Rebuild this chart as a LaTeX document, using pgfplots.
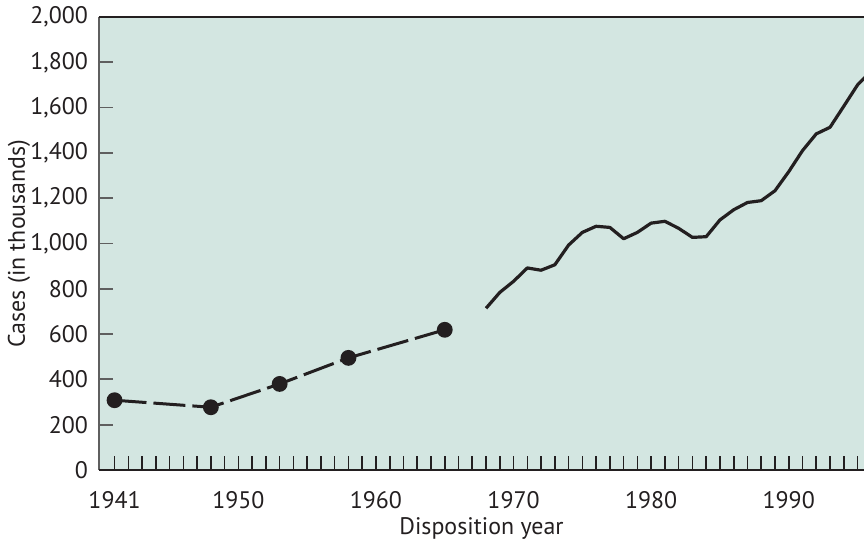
\documentclass[border=0pt]{standalone}
\usepackage{fontspec}
\setmainfont{PT Sans}
\usepackage{pgfplots}
\pgfplotsset{compat=1.18}
\definecolor{bg}{RGB}{211,230,225}
\definecolor{ink}{RGB}{35,31,32}
\definecolor{axgray}{RGB}{95,95,95}
\begin{document}
\begin{tikzpicture}
\begin{axis}[
  name=ax,
  scale only axis, width=382.5bp, height=226.5bp,
  xmin=1939.87, xmax=1995.47, ymin=0, ymax=2000,
  axis background/.style={fill=bg},
  axis line style={draw=none},
  clip mode=individual,
  tick align=inside,
  xtick pos=bottom, ytick pos=left,
  xtick={1941,1950,1960,1970,1980,1990},
  minor xtick={1942,1943,...,1995},
  ytick={0,200,...,2000},
  major tick length=6.8bp, minor tick length=6.8bp,
  x tick style={ink, line width=0.8bp},
  y tick style={axgray, line width=0.9bp},
  xticklabel={\pgfmathprintnumber[1000 sep={}]{\tick}},
  /pgf/number format/.cd, 1000 sep={,}, assume math mode=true, /pgfplots/.cd,
  tick label style={font=\fontsize{12}{14}\selectfont, text=ink},
  yticklabel style={xshift=-2bp},
  xticklabel style={yshift=-7bp},
  label style={font=\fontsize{12}{14}\selectfont, text=ink},
  xlabel={Disposition year},
  ylabel={Cases (in thousands)},
  xlabel style={at={(axis description cs:0.5,0)}, anchor=center, yshift=-29bp},
  ylabel style={at={(axis description cs:0,0.5)}, anchor=center, yshift=40bp},
]
\addplot[ink, line width=1.5bp, dash pattern=on 16bp off 3.5bp, mark=*, mark size=3.2bp, mark options={solid, fill=ink}]
  coordinates {(1941,308)(1948,277)(1953,380)(1958,495)(1965,619)};
\addplot[ink, line width=1.6bp, line join=round] coordinates {
(1968,714)(1969,784)(1970,833)(1971,892)(1972,882)(1973,906)(1974,993)
(1975,1049)(1976,1076)(1977,1071)(1978,1021)(1979,1049)(1980,1090)
(1981,1098)(1982,1067)(1983,1027)(1984,1030)(1985,1104)(1986,1149)
(1987,1181)(1988,1189)(1989,1233)(1990,1317)(1991,1410)(1992,1484)
(1993,1513)(1994,1606)(1995,1700)(1996,1762)};
\draw[axgray, line width=1.2bp] (rel axis cs:0,0) -- (rel axis cs:0,1);
\draw[ink, line width=1bp] (rel axis cs:0,0) -- (rel axis cs:1,0);
\draw[ink, line width=0.7bp] (rel axis cs:0,1) -- (rel axis cs:1,1);
\coordinate (bl) at (rel axis cs:0,0);
\coordinate (tr) at (rel axis cs:1,1);
\end{axis}
\pgfresetboundingbox
\path ([xshift=-49.5bp,yshift=-35.5bp]bl) rectangle ([yshift=8.5bp]tr);
\end{tikzpicture}
\end{document}
